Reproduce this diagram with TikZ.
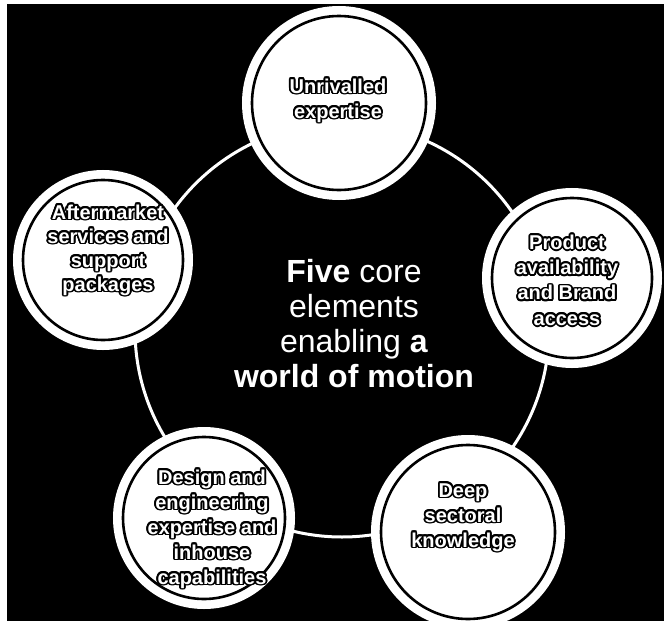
\documentclass[tikz,border=0pt]{standalone}
\usepackage{fontspec}
\setmainfont{Liberation Sans}
\usepackage[copies]{contour}
\contourlength{1.8pt}
\contournumber{16}
\newcommand\ol[1]{\contour{black}{#1}}
\tikzset{
  elem/.style={circle, fill=white, draw=black, line width=2.6pt, inner sep=0pt,
    preaction={draw=white, line width=20pt}},
  lbl/.style={text=white, inner sep=0pt, anchor=base,
    font=\bfseries\fontsize{20}{25}\selectfont},
  ctext/.style={align=center, text=white, inner sep=0pt,
    font=\fontsize{32}{35}\selectfont},
  ring/.style={draw=white, line width=3pt}
}
\begin{document}
\begin{tikzpicture}[x=1pt,y=-1pt]
\useasboundingbox (0,0) rectangle (664,621);
\fill[white] (0,0) rectangle (664,621);
\fill[black] (7,4) rectangle (664,621);
\draw[ring] (342,330) circle[radius=207];
\node[elem, minimum size=174pt] (c1) at (339,103) {};
\node[elem, minimum size=160pt] (c2) at (103,260) {};
\node[elem, minimum size=160pt] (c3) at (572,278) {};
\node[elem, minimum size=162pt] (c4) at (204,518) {};
\node[elem, minimum size=174pt] (c5) at (468,532) {};
\foreach \t [count=\i] in {Unrivalled, expertise}
  \node[lbl] (t1-\i) at (338, 68+25*\i) {\ol{\t}};
\foreach \t [count=\i] in {Aftermarket, services and, support, packages}
  \node[lbl] (t2-\i) at (108, 195+24*\i) {\ol{\t}};
\foreach \t [count=\i] in {Product, availability, and Brand, access}
  \node[lbl] (t3-\i) at (567, 224+25.3*\i) {\ol{\t}};
\foreach \t [count=\i] in {Design and, engineering, expertise and, inhouse, capabilities}
  \node[lbl] (t4-\i) at (212, 459+25*\i) {\ol{\t}};
\foreach \t [count=\i] in {Deep, sectoral, knowledge}
  \node[lbl] (t5-\i) at (463, 472+25*\i) {\ol{\t}};
\node[ctext] (ct) at (354,328) {\textbf{Five} core\strut\\elements\strut\\enabling \textbf{a}\strut\\\textbf{world of motion}\strut};
\end{tikzpicture}
\end{document}
